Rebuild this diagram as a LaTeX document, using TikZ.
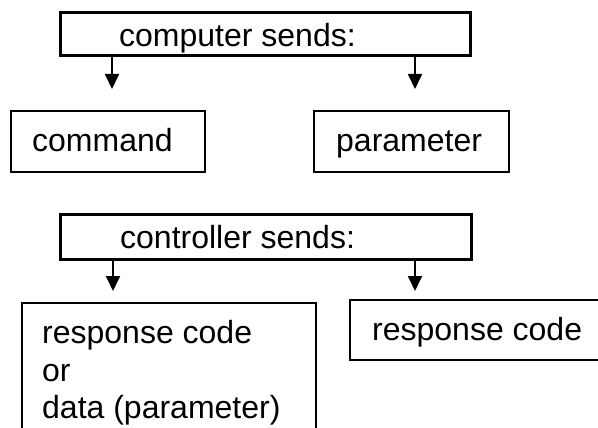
\documentclass[tikz,border=0pt]{standalone}
\usepackage{fontspec}
\setmainfont{Liberation Sans}
\usetikzlibrary{arrows.meta}
\begin{document}
\begin{tikzpicture}[x=1pt,y=-1pt,
  every node/.style={font=\fontsize{32}{38}\selectfont},
  headbox/.style={draw, line width=3pt, inner sep=0pt, rectangle},
  itembox/.style={draw, line width=1.5pt, inner sep=0pt, rectangle},
  lbl/.style={anchor=base west, inner sep=0pt},
  arr/.style={line width=1.8pt, -{Triangle[width=14pt,length=15pt]}}]
\path[use as bounding box, clip] (0,0) rectangle (598,428);
% header boxes
\node[headbox, minimum width=410pt, minimum height=43pt] (t1) at (265,34.5) {};
\node[headbox, minimum width=411pt, minimum height=45pt] (t2) at (265.5,236.5) {};
% item boxes
\node[itembox, minimum width=194pt, minimum height=61pt] (cmd) at (108,141.5) {};
\node[itembox, minimum width=195pt, minimum height=61pt] (par) at (411.5,141.5) {};
\node[itembox, minimum width=294pt, minimum height=137pt] (rl) at (169,371.5) {};
\node[itembox, minimum width=260pt, minimum height=60pt] (rr) at (480,330) {};
% labels
\node[lbl] (l1) at (119,47) {computer sends:};
\node[lbl] (l2) at (120,248) {controller sends:};
\node[lbl] (l3) at (32,152) {command};
\node[lbl] (l4) at (336,152) {parameter};
\node[lbl] (l5) at (372,340) {response code};
\node[lbl] (l6) at (42,343) {response code};
\node[lbl] (l7) at (42,381) {or};
\node[lbl] (l8) at (42,418) {data (parameter)};
% arrows
\coordinate (a1) at (112,89);
\coordinate (a2) at (415,89);
\coordinate (a3) at (113,291);
\coordinate (a4) at (415,291);
\draw[arr] (t1.south -| a1) -- (a1);
\draw[arr] (t1.south -| a2) -- (a2);
\draw[arr] (t2.south -| a3) -- (a3);
\draw[arr] (t2.south -| a4) -- (a4);
\end{tikzpicture}
\end{document}
